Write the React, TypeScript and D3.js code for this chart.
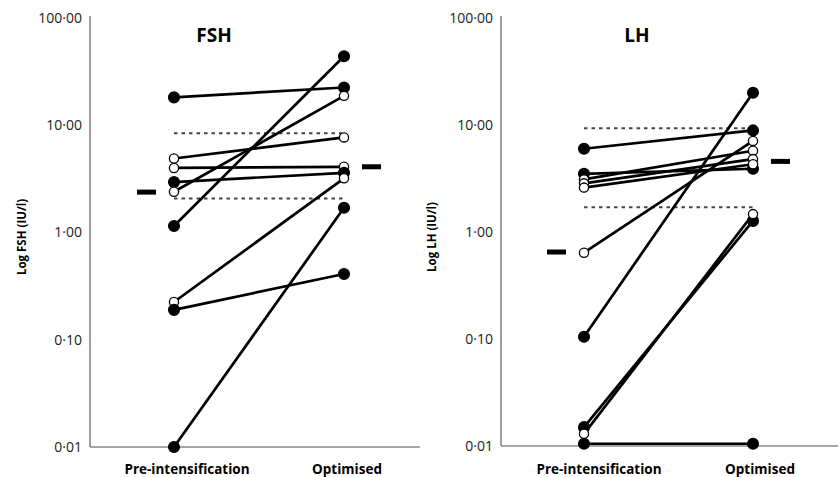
import * as d3 from "d3";

const WIDTH = 840;
const HEIGHT = 477;

const categories = ["Pre-intensification", "Optimised"];
const yTicks = [0.01, 0.1, 1, 10, 100];

// FSH, one entry per patient: pre value, optimised value, open marker?
const fshPre = [18.2, 4.9, 4.0, 2.95, 2.4, 1.15, 0.225, 0.19, 0.01];
const fshOpt = [22.5, 7.7, 4.1, 3.6, 18.8, 44, 3.2, 0.41, 1.7];
const fshOpen = [false, true, true, false, true, false, true, false, false];
const fshMeans = [2.38, 4.1];
const fshRange = [2.08, 8.4];

// LH
const lhPre = [6.0, 3.5, 0.105, 0.015, 0.0105, 0.64, 3.1, 2.85, 2.6, 0.013];
const lhOpt = [8.9, 3.9, 20, 1.27, 0.0105, 7.1, 5.75, 4.8, 4.3, 1.47];
const lhOpen = [false, false, false, false, false, true, true, true, true, true];
const lhMeans = [0.65, 4.57];
const lhRange = [1.7, 9.3];

const FONT = "'Open Sans', 'Noto Sans', sans-serif";

function fmtTick(v) {
  return v.toFixed(2).replace(".", "·");
}

function Panel({ title, yTitle, pre, opt, open, means, range, layout }) {
  const y = d3.scaleLog().domain([0.01, 100]).range([layout.bottom, 18]);
  const x = d3
    .scalePoint()
    .domain(categories)
    .range([layout.preX, layout.optX]);

  const [c0, c1] = categories;

  return (
    <g>
      {/* axes */}
      <line
        x1={layout.axisX}
        x2={layout.axisX}
        y1={16}
        y2={layout.bottom}
        stroke="#a0a0a0"
        strokeWidth={2}
      />
      <line
        x1={layout.axisX}
        x2={layout.axisRight}
        y1={layout.bottom}
        y2={layout.bottom}
        stroke="#888"
        strokeWidth={1.5}
      />
      {yTicks.map((t) => (
        <text
          key={t}
          x={layout.axisX - 8}
          y={y(t)}
          dy="0.35em"
          textAnchor="end"
          fontSize={14}
          fill="#222"
          fontFamily={FONT}
        >
          {fmtTick(t)}
        </text>
      ))}
      <text
        transform={`translate(${layout.yTitleX},237) rotate(-90)`}
        textAnchor="middle"
        dy="0.35em"
        fontSize={11.5}
        fontWeight="bold"
        fontFamily={FONT}
      >
        {yTitle}
      </text>
      {categories.map((c, i) => (
        <text
          key={c}
          x={x(c) + layout.labelDx[i]}
          y={469}
          dy="0.35em"
          textAnchor="middle"
          fontSize={13.5}
          fontWeight="bold"
          fontFamily={FONT}
        >
          {c}
        </text>
      ))}
      <text
        x={layout.titleX}
        y={35}
        dy="0.35em"
        textAnchor="middle"
        fontSize={19}
        fontWeight="bold"
        fontFamily={FONT}
      >
        {title}
      </text>

      {/* reference range */}
      {range.map((r) => (
        <line
          key={r}
          x1={x(c0)}
          x2={x(c1)}
          y1={y(r)}
          y2={y(r)}
          stroke="#444"
          strokeWidth={2}
          strokeDasharray="3.5 4"
        />
      ))}

      {/* patient lines */}
      {pre.map((v, i) => (
        <line
          key={"l" + i}
          x1={x(c0)}
          y1={y(v)}
          x2={x(c1)}
          y2={y(opt[i])}
          stroke="#000"
          strokeWidth={2.7}
        />
      ))}

      {/* markers */}
      {pre.map((v, i) => (
        <g key={"m" + i}>
          <circle
            cx={x(c0)}
            cy={y(v)}
            r={open[i] ? 4.6 : 5.4}
            fill={open[i] ? "#fff" : "#000"}
            stroke="#000"
            strokeWidth={1.3}
          />
          <circle
            cx={x(c1)}
            cy={y(opt[i])}
            r={open[i] ? 4.6 : 5.4}
            fill={open[i] ? "#fff" : "#000"}
            stroke="#000"
            strokeWidth={1.3}
          />
        </g>
      ))}

      {/* means */}
      {means.map((m, i) => (
        <rect
          key={"mean" + i}
          x={x(categories[i]) + (i === 0 ? -37 : 18)}
          y={y(m) - 2.5}
          width={19}
          height={5}
          fill="#000"
        />
      ))}
    </g>
  );
}

export default function App() {
  return (
    <svg
      width={WIDTH}
      height={HEIGHT}
      style={{ position: "absolute", left: 0, top: 0, background: "#fff" }}
    >
      <Panel
        title="FSH"
        yTitle="Log FSH (IU/l)"
        pre={fshPre}
        opt={fshOpt}
        open={fshOpen}
        means={fshMeans}
        range={fshRange}
        layout={{
          axisX: 90,
          axisRight: 420,
          bottom: 447,
          preX: 174,
          optX: 344,
          yTitleX: 22,
          titleX: 214,
          labelDx: [13, 3],
        }}
      />
      <Panel
        title="LH"
        yTitle="Log LH (IU/l)"
        pre={lhPre}
        opt={lhOpt}
        open={lhOpen}
        means={lhMeans}
        range={lhRange}
        layout={{
          axisX: 501,
          axisRight: 838,
          bottom: 446,
          preX: 584,
          optX: 753,
          yTitleX: 432,
          titleX: 637,
          labelDx: [15, 7],
        }}
      />
    </svg>
  );
}
